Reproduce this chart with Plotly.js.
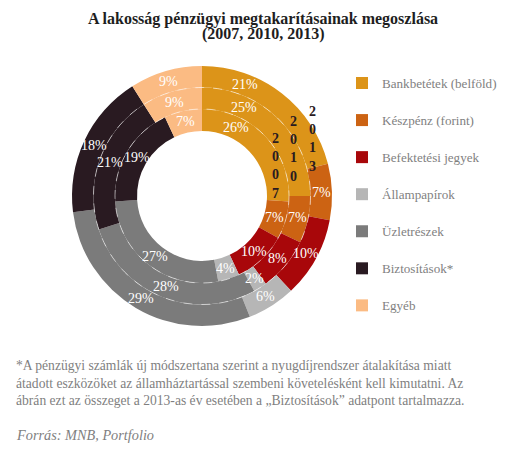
<!DOCTYPE html>
<html>
<head>
<meta charset="utf-8">
<script src="https://cdn.plot.ly/plotly-3.0.1.min.js"></script>
<style>html,body{margin:0;padding:0;background:#fff;}#chart{width:526px;height:453px;}</style>
</head>
<body>
<div id="chart"></div>
<script>
// ---- data ----
const categories = ['Bankbetétek (belföld)', 'Készpénz (forint)', 'Befektetési jegyek', 'Állampapírok', 'Üzletrészek', 'Biztosítások*', 'Egyéb'];
const years = ['2007', '2010', '2013'];
const values2007 = [26, 7, 10, 4, 27, 19, 7];
const values2010 = [25, 7, 8, 2, 28, 21, 9];
const values2013 = [21, 7, 10, 6, 29, 18, 9];
const colors = ['#DC9419', '#CC6313', '#A8070A', '#B6B6B6', '#7B7B7B', '#291A21', '#FBBB83'];
const titleLine1 = 'A lakosság pénzügyi megtakarításainak megoszlása';
const titleLine2 = '(2007, 2010, 2013)';

// ---- layout geometry (pixels) ----
const W = 526, H = 453;
const CX = 202, CY = 196;
const radii = [65, 87, 108.5, 130];
const serif = 'Liberation Serif, Times New Roman, serif';

const series = [values2007, values2010, values2013];
const legendLabels = categories.map(c => c + '<br> ');

const traces = series.map((vals, i) => {
  const R = radii[i + 1];
  return {
    type: 'pie',
    name: years[i],
    labels: legendLabels,
    values: vals,
    sort: false,
    direction: 'clockwise',
    rotation: 0,
    hole: radii[i] / R,
    domain: {x: [(CX - R) / W, (CX + R) / W], y: [1 - (CY + R) / H, 1 - (CY - R) / H]},
    marker: {colors: colors, line: {width: 0}},
    textinfo: 'none',
    showlegend: i === 0,
    hoverinfo: 'label+value'
  };
});

const shapes = [radii[1], radii[2]].map(r => ({
  type: 'circle', xref: 'paper', yref: 'paper', layer: 'above',
  x0: (CX - r) / W, x1: (CX + r) / W, y0: 1 - (CY + r) / H, y1: 1 - (CY - r) / H,
  line: {color: 'rgba(255,255,255,0.55)', width: 1, dash: 'dash'}
}));

const annotations = [];
// percentage labels, placed inside each slice (angles derived from the data);
// the first slice's label is shifted toward the slice start to leave room for the year labels
series.forEach((vals, i) => {
  const total = vals.reduce((a, b) => a + b, 0);
  const rMid = (radii[i] + radii[i + 1]) / 2;
  let cum = 0;
  vals.forEach((v, k) => {
    const frac = k === 0 ? 0.28 : 0.5;
    const ang = (cum + v * frac) / total * 2 * Math.PI;
    cum += v;
    annotations.push({
      xref: 'paper', yref: 'paper',
      x: (CX + rMid * Math.sin(ang)) / W, y: 1 - (CY - rMid * Math.cos(ang)) / H,
      text: v + '%', showarrow: false, xanchor: 'center', yanchor: 'middle',
      font: {family: serif, size: 14, color: '#ffffff'}
    });
  });
});

const yearPos = [[275, 166], [293, 149], [312, 139]];
years.forEach((y, i) => annotations.push({
  xref: 'paper', yref: 'paper', x: yearPos[i][0] / W, y: 1 - yearPos[i][1] / H,
  text: '<b>' + y.split('').join('<br>') + '</b>',
  showarrow: false, xanchor: 'center', yanchor: 'middle',
  font: {family: serif, size: 14, color: '#291A21'}
}));

annotations.push({
  xref: 'paper', yref: 'paper', x: 0.5, y: 1 - 34 / H, xanchor: 'center', yanchor: 'middle',
  showarrow: false, text: '<b>' + titleLine2 + '</b>',
  font: {family: serif, size: 16, color: '#1E1E1E'}
});

annotations.push({
  xref: 'paper', yref: 'paper', x: 14 / W, y: 1 - 356 / H, xanchor: 'left', yanchor: 'top', align: 'left',
  showarrow: false,
  text: '*A pénzügyi számlák új módszertana szerint a nyugdíjrendszer átalakítása miatt<br>átadott eszközöket az államháztartással szembeni követelésként kell kimutatni. Az<br>ábrán ezt az összeget a 2013-as év esetében a „Biztosítások” adatpont tartalmazza.',
  font: {family: serif, size: 13.6, color: '#7F7F7F'}
});
annotations.push({
  xref: 'paper', yref: 'paper', x: 14 / W, y: 1 - 435 / H, xanchor: 'left', yanchor: 'middle', align: 'left',
  showarrow: false,
  text: '<i>Forrás: MNB, Portfolio</i>',
  font: {family: serif, size: 14.3, color: '#7F7F7F'}
});

const layout = {
  width: W, height: H,
  margin: {l: 0, r: 0, t: 0, b: 0},
  paper_bgcolor: '#ffffff',
  title: {
    text: '<b>' + titleLine1 + '</b>',
    x: 0.5, xanchor: 'center', y: 1 - 18 / H, yanchor: 'middle',
    font: {family: serif, size: 16, color: '#1E1E1E'}
  },
  legend: {
    x: 342 / W, y: 1 - 68 / H, xanchor: 'left', yanchor: 'top',
    valign: 'top', bgcolor: 'rgba(0,0,0,0)',
    font: {family: serif, size: 13.1, color: '#7F7F7F'}
  },
  shapes: shapes,
  annotations: annotations
};

Plotly.newPlot('chart', traces, layout, {displayModeBar: false, staticPlot: true});
</script>
</body>
</html>
